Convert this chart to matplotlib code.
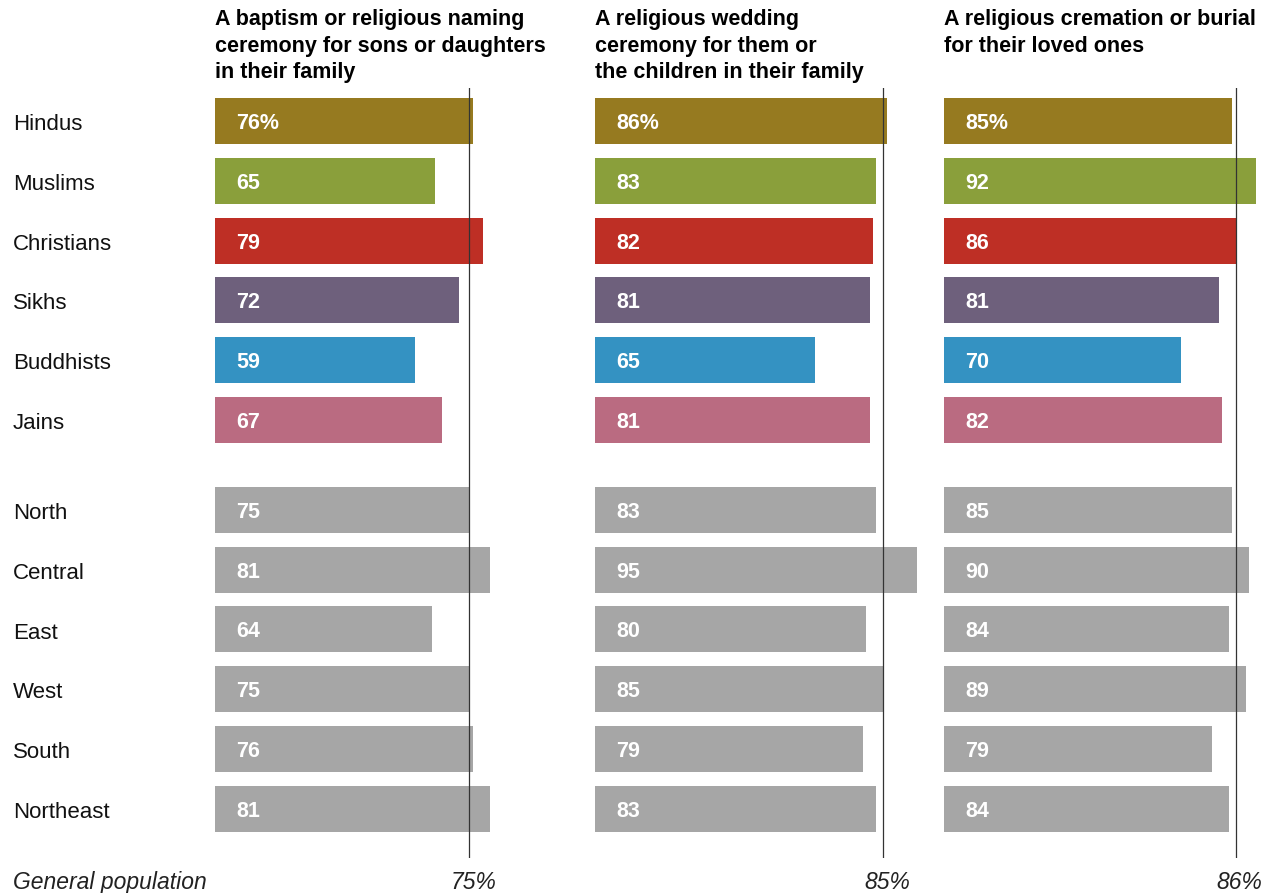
import matplotlib
matplotlib.use('Agg')
from matplotlib import pyplot as plt

# groups shown as rows, top to bottom
groups = ['Hindus', 'Muslims', 'Christians', 'Sikhs', 'Buddhists', 'Jains',
          'North', 'Central', 'East', 'West', 'South', 'Northeast']

titles = ['A baptism or religious naming\nceremony for sons or daughters\nin their family',
          'A religious wedding\nceremony for them or\nthe children in their family',
          'A religious cremation or burial\nfor their loved ones']

baptism = [76, 65, 79, 72, 59, 67, 75, 81, 64, 75, 76, 81]
wedding = [86, 83, 82, 81, 65, 81, 83, 95, 80, 85, 79, 83]
cremation = [85, 92, 86, 81, 70, 82, 85, 90, 84, 89, 79, 84]
general_pop = [75, 85, 86]

religion_colors = ['#967A20', '#8A9F3B', '#BE2F25', '#6E607C', '#3492C2', '#BA6B81']
region_color = '#A6A6A6'

plt.rcParams['font.family'] = ['Liberation Sans', 'DejaVu Sans']

W, H = 1275, 893
fig = plt.figure(figsize=(W / 100, H / 100), dpi=100)

# row positions, with a gap between religions and regions
ypos = [0, 1, 2, 3, 4, 5, 6.5, 7.5, 8.5, 9.5, 10.5, 11.5]
colors = religion_colors + [region_color] * 6

# pixel layout
px_per_unit = 3.39
panel_left = [215, 595, 944]
top_px, bottom_px = 88, 858
ylim = (12.32, -0.55)

series = [baptism, wedding, cremation]
for i, vals in enumerate(series):
    left = panel_left[i] / W
    width = 100 * px_per_unit / W
    ax = fig.add_axes([left, (H - bottom_px) / H, width, (bottom_px - top_px) / H])
    ax.barh(ypos, vals, height=0.77, color=colors, zorder=1)
    ax.set_xlim(0, 100)
    ax.set_ylim(*ylim)
    ax.axvline(general_pop[i], color='#333333', lw=0.9, zorder=3)
    for j, v in enumerate(vals):
        txt = str(v) + ('%' if j == 0 else '')
        ax.text(6.2, ypos[j], txt, color='white', fontsize=15.5, fontweight='bold',
                va='center_baseline', ha='left')
    ax.axis('off')
    ax.patch.set_alpha(0)

    # panel title
    fig.text(panel_left[i] / W, 1 - 9 / H, titles[i], fontsize=15.5, fontweight='bold',
             va='top', ha='left', linespacing=1.35)
    # general population value
    fig.text((panel_left[i] + general_pop[i] * px_per_unit + 4) / W, 1 - 880 / H,
             str(general_pop[i]) + '%', fontsize=16.5, style='italic',
             va='center_baseline', ha='center', color='#222222')

# row labels
for j, g in enumerate(groups):
    y_px = 122 + ypos[j] * 59.83
    fig.text(13 / W, 1 - y_px / H, g, fontsize=16, va='center_baseline', ha='left',
             color='#111111')

fig.text(13 / W, 1 - 880 / H, 'General population', fontsize=16.5, style='italic',
         va='center_baseline', ha='left', color='#222222')

plt.savefig('out.png', dpi=100)
